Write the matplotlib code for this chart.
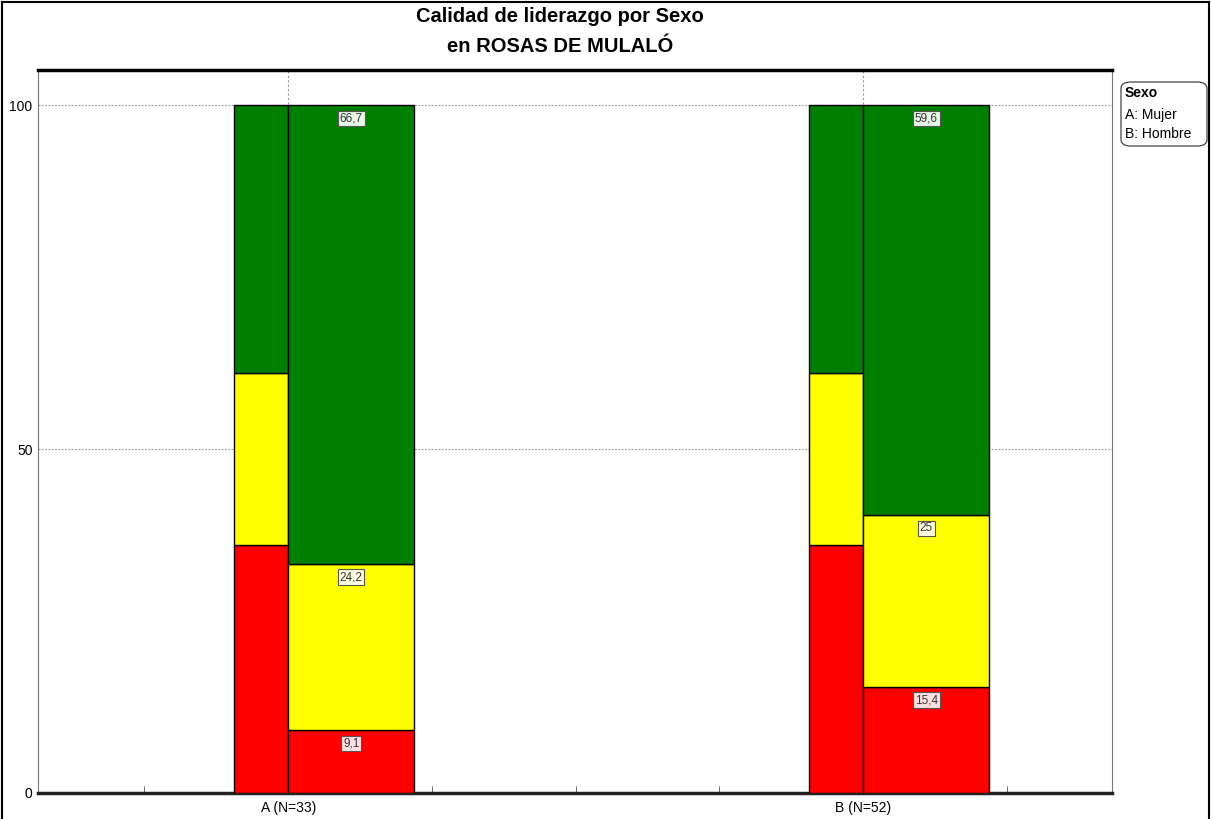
#!/usr/bin/env python3

# Stacked bars: leadership quality by sex, ROSAS DE MULALO

import numpy as np
import matplotlib
matplotlib.use("Agg")
from matplotlib import pyplot as plt
from matplotlib.patches import FancyBboxPatch
from matplotlib.lines import Line2D

plt.rcParams['font.family'] = ['Liberation Sans', 'DejaVu Sans']

categories = ["A (N=33)", "B (N=52)"]
positions = [1, 5]
# overall distribution (narrow bar), bottom -> top: red, yellow, green
overall = [36.0, 25.0, 39.0]
# per category distribution (wide bar), bottom -> top
red_vals = [9.1, 15.4]
yellow_vals = [24.2, 25.0]
green_vals = [66.7, 59.6]

seg_colors = ['#ff0000', '#ffff00', '#008000']
box_colors = ['#ffe0e0', '#ffffe0', '#e8f5e8']

fig = plt.figure(figsize=(12.12, 8.19), dpi=100)
ax = fig.add_axes([38/1212, 26/819, (1112-38)/1212, (793-70)/819])

narrow_w = 0.376
wide_w = 0.877

for i, x in enumerate(positions):
    # narrow overall bar, left of the category line
    bottom = 0.0
    for v, c in zip(overall, seg_colors):
        ax.bar(x - narrow_w, v, width=narrow_w, bottom=bottom, align='edge',
               color=c, edgecolor='black', linewidth=1.0, zorder=3)
        bottom += v
    # wide bar for the category
    vals = [red_vals[i], yellow_vals[i], green_vals[i]]
    bottom = 0.0
    for v, c, bc in zip(vals, seg_colors, box_colors):
        ax.bar(x, v, width=wide_w, bottom=bottom, align='edge',
               color=c, edgecolor='black', linewidth=1.0, zorder=3)
        top = bottom + v
        lab = ("%g" % v).replace('.', ',')
        ax.annotate(lab, (x + wide_w / 2, top), xytext=(0, -9.5),
                    textcoords='offset points', ha='center', va='center',
                    fontsize=8.5, color='#333333', zorder=6,
                    bbox=dict(boxstyle='square,pad=0.15', fc=bc,
                              ec='#555555', lw=0.8))
        bottom = top

ax.set_xlim(-0.74, 6.73)
ax.set_ylim(0, 105.1)

ax.set_yticks([0, 50, 100])
ax.set_yticklabels(['0', '50', '100'], fontsize=10)
ax.set_xticks(np.arange(0, 7))
ax.set_xticklabels(['', categories[0], '', '', '', categories[1], ''], fontsize=10)
ax.tick_params(axis='x', direction='in', length=5, width=0.6, color='#555555', pad=6)
ax.tick_params(axis='y', length=0, pad=4)

for y in [50, 100]:
    ax.axhline(y, color='#999999', lw=0.8, ls=(0, (1.5, 1.5)), zorder=1)
for x in positions:
    ax.axvline(x, color='#999999', lw=0.8, ls=(0, (2, 2)), zorder=1)
    ax.axvline(x, ymin=0, ymax=100/105.1, color='black', lw=0.6, zorder=4)

ax.spines['top'].set_linewidth(2.5)
ax.spines['bottom'].set_linewidth(2.5)
ax.spines['bottom'].set_color('#222222')
ax.spines['left'].set_linewidth(0.8)
ax.spines['left'].set_color('#777777')
ax.spines['right'].set_linewidth(0.8)
ax.spines['right'].set_color('#777777')

fig.text(560/1212, 1 - 16/819, "Calidad de liderazgo por Sexo", ha='center',
         va='center', fontsize=14.5, fontweight='bold')
fig.text(560/1212, 1 - 46/819, "en ROSAS DE MULALÓ", ha='center',
         va='center', fontsize=14.5, fontweight='bold')

# legend box
leg = FancyBboxPatch((1121/1212, 1 - 146/819), 86/1212, 64/819,
                     boxstyle='round,pad=0,rounding_size=0.008',
                     transform=fig.transFigure, fc='white', ec='#444444', lw=0.9)
fig.patches.append(leg)
fig.text(1125/1212, 1 - 93/819, "Sexo", fontsize=10, fontweight='bold', va='center')
fig.text(1125/1212, 1 - 115/819, "A: Mujer", fontsize=10, va='center')
fig.text(1125/1212, 1 - 134/819, "B: Hombre", fontsize=10, va='center')

# figure frame
for xs, ys in [([2/1212, 2/1212], [0, 1 - 2/819]),
               ([2/1212, 1 - 3/1212], [1 - 2/819, 1 - 2/819]),
               ([1 - 3/1212, 1 - 3/1212], [0, 1 - 2/819])]:
    fig.lines.append(Line2D(xs, ys, transform=fig.transFigure, color='black', lw=1.5))

fig.savefig("out.png", dpi=100)
